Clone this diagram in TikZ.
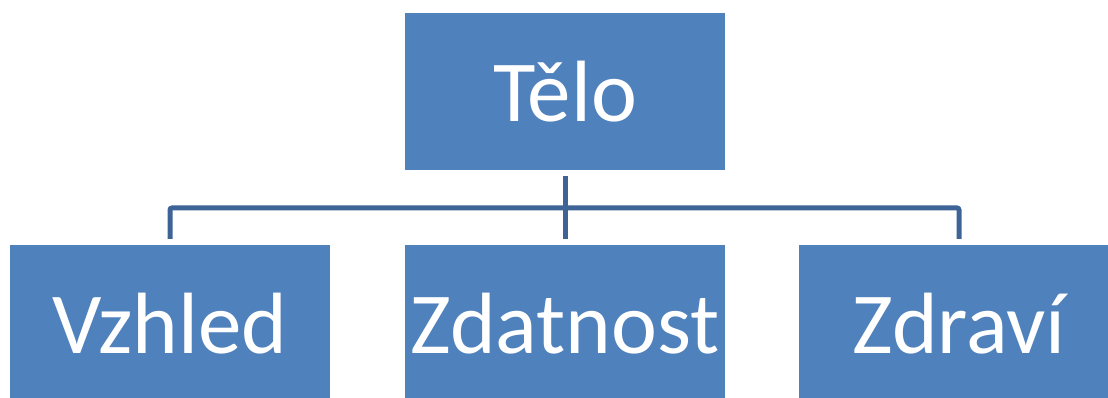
\documentclass[tikz,border=0pt]{standalone}
\usepackage{fontspec}
\setmainfont{Carlito}
\definecolor{boxblue}{RGB}{79,129,189}
\definecolor{linkblue}{RGB}{62,99,150}

\begin{document}
\begin{tikzpicture}[x=1pt,y=1pt,
   box/.style={rectangle, fill=boxblue, text=white, inner sep=0pt,
               minimum width=320pt, minimum height=157pt,
               font=\fontsize{87}{100}\selectfont},
   link/.style={draw=linkblue, line width=5pt}]

   \useasboundingbox (0,0) rectangle (1108,398);

   \node[box] (telo) at (565,306.5) {Tělo};
   \node[box] (vzhled) at (170,74.5) {Vzhled};
   \node[box] (zdatnost) at (565,74.5) {Zdatnost};
   \node[box] (zdravi) at (959,74.5) {Zdraví};

   \coordinate (bus) at (565,190);
   \draw[link, shorten <=6pt] (telo.south) -- (bus);
   \foreach \n in {vzhled,zdatnost,zdravi}
      \draw[link, rounded corners=2pt, shorten >=6pt] (bus) -| (\n.north);
\end{tikzpicture}
\end{document}
